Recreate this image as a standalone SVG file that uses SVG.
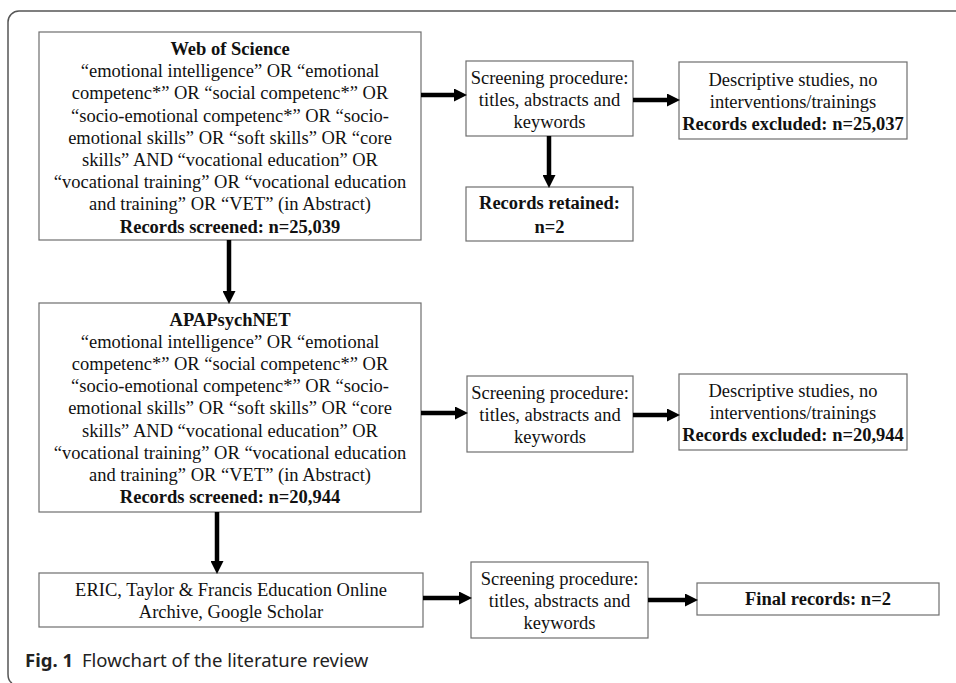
<svg xmlns="http://www.w3.org/2000/svg" width="956" height="683" viewBox="0 0 956 683">
<defs>
<style>
.box{fill:#fff;stroke:#6e6e6e;stroke-width:1.2}
.t{font-family:"Liberation Serif","Times New Roman",serif;font-size:18.5px;fill:#111;text-anchor:middle}
.b{font-weight:bold}
.c{stroke:#000;stroke-width:4.5;fill:none}
.cap{font-family:"Noto Sans","Open Sans",sans-serif;font-size:18.5px;fill:#222}
</style>
<marker id="ah" markerUnits="userSpaceOnUse" markerWidth="13" markerHeight="13" refX="6" refY="6.5" orient="auto">
<path d="M0,0 L13,6.5 L0,13 z" fill="#000"/>
</marker>
</defs>
<rect width="956" height="683" fill="#fff"/>
<path d="M956 11 H19 A11 11 0 0 0 8 22 V674 Q8 681 12 683" fill="none" stroke="#555" stroke-width="1.5"/>

<g id="wos">
<rect class="box" x="39" y="32" width="382" height="208"/>
<text class="t"><tspan class="b" x="230" y="55">Web of Science</tspan><tspan x="230" y="77.2">“emotional intelligence” OR “emotional</tspan><tspan x="230" y="99.4">competenc*” OR “social competenc*” OR</tspan><tspan x="230" y="121.6">“socio-emotional competenc*” OR “socio-</tspan><tspan x="230" y="143.8">emotional skills” OR “soft skills” OR “core</tspan><tspan x="230" y="166">skills” AND “vocational education” OR</tspan><tspan x="230" y="188.2">“vocational training” OR “vocational education</tspan><tspan x="230" y="210.4">and training” OR “VET” (in Abstract)</tspan><tspan class="b" x="230" y="232.6">Records screened: n=25,039</tspan></text>
</g>
<g id="screen1">
<rect class="box" x="466" y="61" width="167" height="75"/>
<text class="t"><tspan x="549.5" y="84">Screening procedure:</tspan><tspan x="549.5" y="106">titles, abstracts and</tspan><tspan x="549.5" y="128">keywords</tspan></text>
</g>
<g id="excl1">
<rect class="box" x="679" y="62" width="228" height="77"/>
<text class="t"><tspan x="793" y="86">Descriptive studies, no</tspan><tspan x="793" y="108">interventions/trainings</tspan><tspan class="b" x="793" y="130">Records excluded: n=25,037</tspan></text>
</g>
<g id="retained">
<rect class="box" x="466" y="187" width="167" height="54"/>
<text class="t b"><tspan x="549.5" y="209">Records retained:</tspan><tspan x="549.5" y="233">n=2</tspan></text>
</g>
<g id="apa">
<rect class="box" x="39" y="303" width="382" height="209"/>
<text class="t"><tspan class="b" x="230" y="326">APAPsychNET</tspan><tspan x="230" y="348.1">“emotional intelligence” OR “emotional</tspan><tspan x="230" y="370.2">competenc*” OR “social competenc*” OR</tspan><tspan x="230" y="392.3">“socio-emotional competenc*” OR “socio-</tspan><tspan x="230" y="414.4">emotional skills” OR “soft skills” OR “core</tspan><tspan x="230" y="436.5">skills” AND “vocational education” OR</tspan><tspan x="230" y="458.6">“vocational training” OR “vocational education</tspan><tspan x="230" y="480.7">and training” OR “VET” (in Abstract)</tspan><tspan class="b" x="230" y="502.8">Records screened: n=20,944</tspan></text>
</g>
<g id="screen2">
<rect class="box" x="467" y="376" width="166" height="76"/>
<text class="t"><tspan x="550" y="399">Screening procedure:</tspan><tspan x="550" y="421">titles, abstracts and</tspan><tspan x="550" y="443">keywords</tspan></text>
</g>
<g id="excl2">
<rect class="box" x="679" y="374" width="228" height="76"/>
<text class="t"><tspan x="793" y="397">Descriptive studies, no</tspan><tspan x="793" y="419">interventions/trainings</tspan><tspan class="b" x="793" y="441">Records excluded: n=20,944</tspan></text>
</g>
<g id="eric">
<rect class="box" x="39" y="573" width="384" height="54"/>
<text class="t"><tspan x="231" y="596">ERIC, Taylor &amp; Francis Education Online</tspan><tspan x="231" y="618">Archive, Google Scholar</tspan></text>
</g>
<g id="screen3">
<rect class="box" x="471" y="562" width="177" height="76"/>
<text class="t"><tspan x="559.5" y="585">Screening procedure:</tspan><tspan x="559.5" y="607">titles, abstracts and</tspan><tspan x="559.5" y="629">keywords</tspan></text>
</g>
<g id="final">
<rect class="box" x="697" y="583" width="242" height="32"/>
<text class="t b" x="818" y="605">Final records: n=2</text>
</g>

<g id="connectors">
<line class="c" x1="421" y1="95" x2="460" y2="95" marker-end="url(#ah)"/>
<line class="c" x1="633" y1="100" x2="673" y2="100" marker-end="url(#ah)"/>
<line class="c" x1="549" y1="136" x2="549" y2="181" marker-end="url(#ah)"/>
<line class="c" x1="229" y1="240" x2="229" y2="297" marker-end="url(#ah)"/>
<line class="c" x1="421" y1="413" x2="461" y2="413" marker-end="url(#ah)"/>
<line class="c" x1="633" y1="415" x2="673" y2="415" marker-end="url(#ah)"/>
<line class="c" x1="217" y1="512" x2="217" y2="567" marker-end="url(#ah)"/>
<line class="c" x1="423" y1="598" x2="465" y2="598" marker-end="url(#ah)"/>
<line class="c" x1="648" y1="600" x2="691" y2="600" marker-end="url(#ah)"/>
</g>

<text class="cap" x="25" y="667"><tspan font-weight="bold">Fig. 1</tspan><tspan dx="9">Flowchart of the literature review</tspan></text>
</svg>
